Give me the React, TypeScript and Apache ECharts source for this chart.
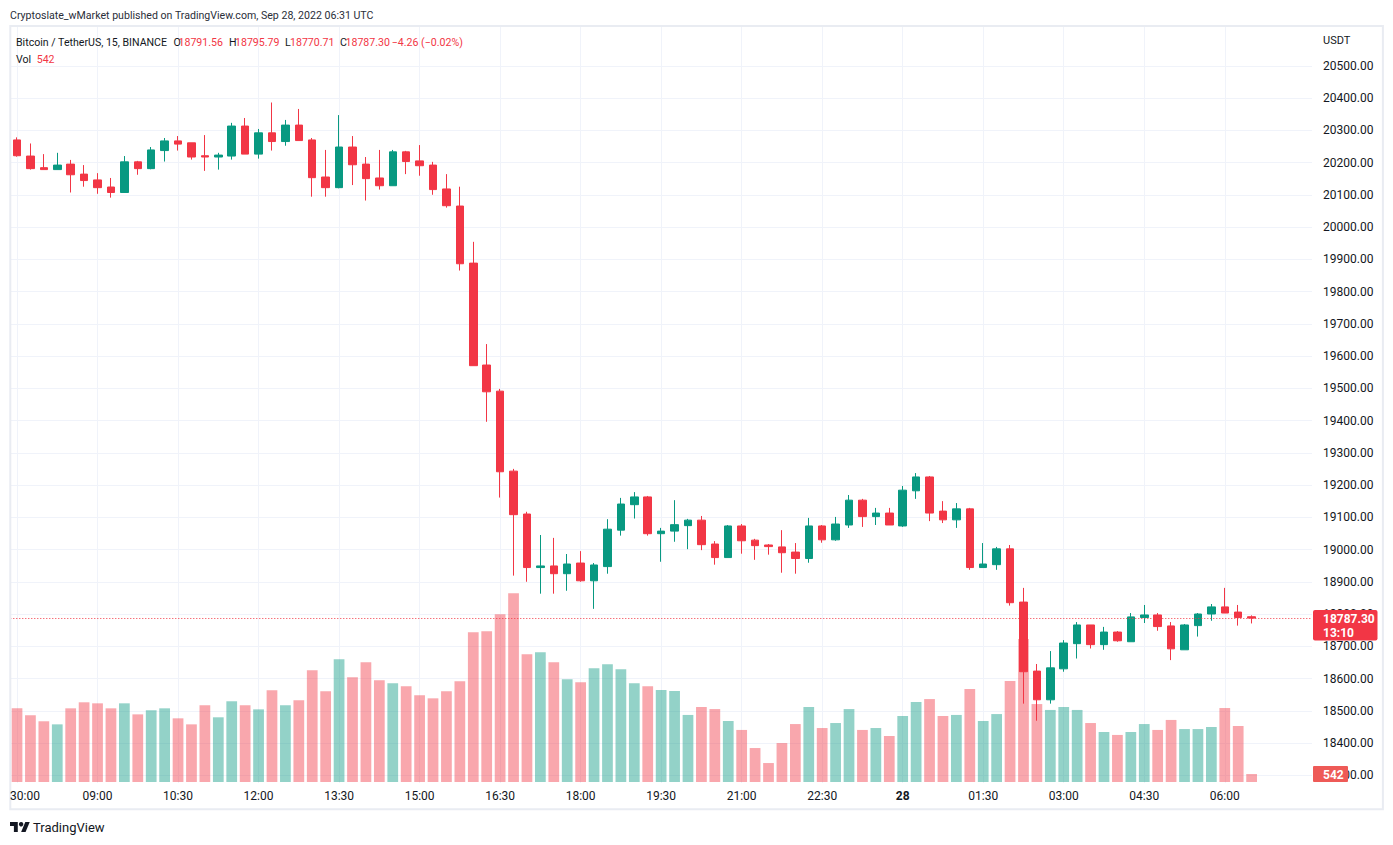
import React, { useEffect, useRef } from 'react';
import * as echarts from 'echarts';

// ---- data: BTC/USDT 15m candles, Sep 27 07:30 -> Sep 28 06:30 (UTC) ----
const startMinutes = 7 * 60 + 30; // first candle 07:30
const slotCount = 97; // 07:30 .. 07:30 next day (last 4 slots empty)

const opens = [
  20270, 20220, 20184, 20178, 20195, 20164, 20146, 20124, 20107, 20202, 20181, 20237, 20267, 20261, 20221, 20217,
  20220, 20313, 20226, 20292, 20265, 20316, 20270, 20155, 20122, 20248, 20195, 20152, 20128, 20233, 20205, 20192,
  20118, 20065, 19888, 19572, 19491, 19243, 19110, 18944, 18949, 18925, 18958, 18903, 18947, 19060, 19139, 19163,
  19049, 19057, 19074, 19091, 19017, 18975, 19073, 19029, 19014, 19008, 18992, 18972, 19073, 19030, 19076, 19153,
  19102, 19113, 19073, 19182, 19225, 19119, 19092, 19126, 18944, 18953, 19002, 18837, 18623, 18534, 18630, 18708,
  18766, 18705, 18744, 18714, 18789, 18797, 18763, 18689, 18764, 18800, 18822, 18806, 18791.56,
];
const closes = [
  20221, 20181, 20178, 20192, 20162, 20144, 20122, 20107, 20202, 20181, 20239, 20267, 20257, 20217, 20217, 20223,
  20313, 20226, 20292, 20265, 20316, 20268, 20153, 20122, 20248, 20193, 20150, 20128, 20233, 20203, 20190, 20116,
  20066, 19886, 19570, 19489, 19241, 19108, 18944, 18949, 18925, 18955, 18903, 18952, 19063, 19141, 19163, 19049,
  19057, 19077, 19091, 19015, 18975, 19073, 19027, 19012, 19009, 18990, 18972, 19073, 19030, 19079, 19153, 19102,
  19113, 19076, 19184, 19225, 19113, 19092, 19126, 18944, 18955, 19002, 18835, 18621, 18534, 18633, 18710, 18766,
  18705, 18744, 18717, 18791, 18797, 18761, 18692, 18766, 18800, 18822, 18803, 18789, 18787.3,
];
const lows = [
  20218, 20178, 20178, 20178, 20107, 20125, 20103, 20091, 20107, 20162, 20179, 20203, 20237, 20209, 20174, 20178,
  20209, 20226, 20212, 20237, 20252, 20268, 20094, 20094, 20120, 20130, 20082, 20116, 20128, 20164, 20159, 20100,
  20060, 19865, 19570, 19396, 19161, 18919, 18900, 18863, 18863, 18872, 18900, 18816, 18925, 19043, 19096, 19043,
  18962, 19024, 19001, 18998, 18953, 18975, 18987, 18968, 18984, 18928, 18925, 18959, 19021, 19027, 19067, 19070,
  19076, 19076, 19070, 19157, 19088, 19082, 19067, 18937, 18944, 18937, 18826, 18522, 18469, 18522, 18621, 18662,
  18693, 18689, 18714, 18714, 18772, 18748, 18657, 18689, 18730, 18779, 18803, 18764, 18770.71,
];
const highs = [
  20278, 20259, 20226, 20230, 20208, 20192, 20167, 20152, 20220, 20205, 20248, 20276, 20282, 20261, 20285, 20230,
  20323, 20338, 20304, 20386, 20332, 20366, 20276, 20239, 20347, 20282, 20217, 20239, 20239, 20236, 20254, 20202,
  20164, 20125, 19954, 19637, 19498, 19250, 19117, 19045, 19036, 18986, 18995, 18958, 19094, 19160, 19178, 19166,
  19067, 19153, 19095, 19104, 19026, 19076, 19079, 19033, 19017, 19060, 19020, 19098, 19076, 19101, 19169, 19157,
  19129, 19129, 19197, 19237, 19228, 19150, 19144, 19129, 19020, 19008, 19014, 18881, 18645, 18685, 18719, 18775,
  18766, 18760, 18747, 18803, 18828, 18803, 18775, 18769, 18803, 18831, 18881, 18828, 18795.79,
];
const volumes = [
  5010, 4540, 4130, 3920, 5010, 5420, 5350, 5010, 5350, 4600, 4880, 5010, 4330, 3920, 5220, 4400,
  5490, 5220, 4940, 6240, 5220, 5560, 7600, 6170, 8340, 7120, 8140, 6920, 6710, 6510, 5900, 5690,
  6170, 6850, 10180, 10250, 11400, 12830, 8680, 8820, 8140, 6980, 6780, 7730, 8000, 7660, 6710, 6510,
  6260, 6190, 4560, 5100, 4960, 4150, 3540, 2310, 1290, 2650, 3940, 5100, 3670, 4010, 4960, 3540,
  3670, 3130, 4490, 5440, 5640, 4490, 4560, 6320, 4150, 4620, 6870, 9720, 5300, 4900, 5100, 4900,
  4010, 3400, 3200, 3400, 3940, 3540, 4220, 3600, 3600, 3740, 5030, 3810, 542,
];
const priceTicks = { min: 18300, max: 20500, step: 100 };
const volumeMax = 20000;
const dayLabel = '28';
const firstLabel = '30:00';
const countdown = '13:10';

const pad = (n: number) => (n < 10 ? '0' + n : '' + n);
const categories: string[] = [];
for (let i = 0; i < slotCount; i++) {
  const m = (startMinutes + i * 15) % (24 * 60);
  categories.push(pad(Math.floor(m / 60)) + ':' + pad(m % 60));
}

const UP = '#089981';
const DOWN = '#f23645';
const UP_VOL = 'rgba(8,153,129,0.44)';
const DOWN_VOL = 'rgba(242,54,69,0.44)';
const TEXT = '#131722';
const GRID = '#f0f3fa';
const FONT = 'Roboto';

export default function App() {
  const ref = useRef<HTMLDivElement>(null);
  useEffect(() => {
    const el = ref.current;
    if (!el) return;
    const chart = echarts.init(el, null, { renderer: 'svg' });

    const candleData = opens.map((o, i) => [o, closes[i], lows[i], highs[i]]);
    const volData = volumes.map((v, i) => ({
      value: v,
      itemStyle: { color: closes[i] >= opens[i] ? UP_VOL : DOWN_VOL },
    }));
    const n = opens.length;
    const lastO = opens[n - 1];
    const lastC = closes[n - 1];
    const lastV = volumes[n - 1];

    const gridLeft = 10.3;
    const gridWidth = 1301.7;

    chart.setOption({
      animation: false,
      backgroundColor: '#ffffff',
      textStyle: { fontFamily: FONT },
      grid: [
        { left: gridLeft, width: gridWidth, top: 65.75, height: 709.5 },
        { left: gridLeft, width: gridWidth, top: 487.9, height: 294.1 },
        { left: gridLeft, width: gridWidth, top: 27, height: 756 },
      ],
      xAxis: [
        { gridIndex: 0, type: 'category', data: categories, boundaryGap: true, show: false },
        { gridIndex: 1, type: 'category', data: categories, boundaryGap: true, show: false },
        {
          gridIndex: 2,
          type: 'category',
          data: categories,
          boundaryGap: true,
          axisLine: { show: false },
          axisTick: { show: false },
          axisLabel: {
            interval: (i: number) => i % 6 === 0 && i > 0 && i < slotCount - 1,
            color: TEXT,
            fontFamily: FONT,
            fontSize: 12,
            margin: 7,
            formatter: (v: string) => (v === '00:00' ? '{b|' + dayLabel + '}' : v),
            rich: { b: { fontWeight: 'bold', color: TEXT, fontFamily: FONT, fontSize: 12 } },
          },
          splitLine: {
            show: true,
            alignWithLabel: true,
            interval: (i: number) => i % 6 === 0 && i < slotCount - 1,
            lineStyle: { color: GRID, width: 1 },
          },
        },
      ],
      yAxis: [
        {
          gridIndex: 0,
          type: 'value',
          position: 'right',
          min: priceTicks.min,
          max: priceTicks.max,
          interval: priceTicks.step,
          axisLine: { show: false },
          axisTick: { show: false },
          axisLabel: {
            color: TEXT,
            fontFamily: FONT,
            fontSize: 12,
            margin: 11,
            formatter: (v: number) => v.toFixed(2),
          },
          splitLine: { show: true, lineStyle: { color: GRID, width: 1 } },
        },
        { gridIndex: 1, type: 'value', min: 0, max: volumeMax, show: false, splitLine: { show: false } },
        { gridIndex: 2, type: 'value', min: 0, max: 1, show: false, splitLine: { show: false } },
      ],
      series: [
        {
          type: 'bar',
          name: 'Vol',
          xAxisIndex: 1,
          yAxisIndex: 1,
          data: volData,
          barCategoryGap: '20%',
          z: 1,
          silent: true,
        },
        {
          type: 'candlestick',
          name: 'BTCUSDT',
          xAxisIndex: 0,
          yAxisIndex: 0,
          data: candleData,
          barWidth: 8,
          z: 3,
          itemStyle: {
            color: UP,
            color0: DOWN,
            borderColor: UP,
            borderColor0: DOWN,
            borderWidth: 1,
          },
          markLine: {
            silent: true,
            symbol: ['none', 'none'],
            label: { show: false },
            lineStyle: { color: DOWN, type: [1, 2], width: 1 },
            data: [{ yAxis: lastC }],
          },
        },
      ],
    });

    const yP = chart.convertToPixel({ yAxisIndex: 0 }, lastC) as number;
    const yV = chart.convertToPixel({ yAxisIndex: 1 }, lastV) as number;
    const chg = lastC - lastO;
    const chgPct = (chg / lastO) * 100;
    const fmtSigned = (x: number, d: number) => (x < 0 ? '\u2212' : '+') + Math.abs(x).toFixed(d);

    const txt = (x: number, y: number, text: string, fill: string, size: number, extra: any = {}) => ({
      type: 'text',
      x,
      y,
      z: 100,
      style: { text, fill, fontSize: size, fontFamily: FONT, verticalAlign: 'middle', align: 'left', ...extra },
    });

    const L = 10.6; // legend font size
    const axisX = gridLeft + gridWidth;
    chart.setOption({
      graphic: {
        elements: [
          {
            type: 'rect',
            z: 90,
            shape: { x: 10.3, y: 26, width: 1372.6, height: 783.3 },
            style: { fill: 'none', stroke: '#e9ecf2', lineWidth: 2 },
          },
          txt(10, 15, 'Cryptoslate_wMarket published on TradingView.com, Sep 28, 2022 06:31 UTC', '#2a2e39', 10.6),
          txt(16, 42.7, 'Bitcoin / TetherUS, 15, BINANCE', TEXT, L),
          txt(173.5, 42.7, 'O', TEXT, L),
          txt(178.5, 42.7, lastO.toFixed(2), DOWN, L),
          txt(229, 42.7, 'H', TEXT, L),
          txt(235, 42.7, highs[n - 1].toFixed(2), DOWN, L),
          txt(285, 42.7, 'L', TEXT, L),
          txt(290, 42.7, lows[n - 1].toFixed(2), DOWN, L),
          txt(340, 42.7, 'C', TEXT, L),
          txt(345.5, 42.7, lastC.toFixed(2), DOWN, L),
          txt(391.7, 42.7, fmtSigned(chg, 2) + ' (' + fmtSigned(chgPct, 2) + '%)', DOWN, L),
          txt(16, 59.3, 'Vol', TEXT, L),
          txt(36.7, 59.3, String(lastV), DOWN, L),
          txt(axisX + 11, 40, 'USDT', TEXT, 11),
          txt(10, 796, firstLabel, TEXT, 12),
          {
            type: 'rect',
            z: 100,
            shape: { x: axisX + 1, y: yP - 8, width: 64.5, height: 30.5, r: 2 },
            style: { fill: DOWN },
          },
          txt(axisX + 11, yP + 0.5, lastC.toFixed(2), '#ffffff', 12, { fontWeight: 'bold' }),
          txt(axisX + 11, yP + 14.5, countdown, '#ffffff', 12, { fontWeight: 'bold' }),
          {
            type: 'rect',
            z: 100,
            shape: { x: axisX + 1, y: yV - 8, width: 35, height: 16, r: 1 },
            style: { fill: '#ee5a57' },
          },
          txt(axisX + 11, yV + 0.5, String(lastV), '#ffffff', 12, { fontWeight: 'bold' }),
          {
            type: 'group',
            x: 10,
            y: 819.8,
            scaleX: 0.556,
            scaleY: 0.556,
            z: 100,
            children: [
              {
                type: 'polygon',
                shape: { points: [[0, 4], [14, 4], [14, 22], [7, 22], [7, 11], [0, 11]] },
                style: { fill: TEXT },
              },
              {
                type: 'polygon',
                shape: { points: [[20, 22], [27.5, 4], [35.5, 4], [28, 22]] },
                style: { fill: TEXT },
              },
              { type: 'circle', shape: { cx: 20, cy: 8, r: 4 }, style: { fill: TEXT } },
            ],
          },
          txt(33, 827, 'TradingView', TEXT, 13),
        ],
      },
    });

    return () => chart.dispose();
  }, []);

  return <div ref={ref} style={{ position: 'fixed', left: 0, top: 0, width: 1393, height: 845 }} />;
}
